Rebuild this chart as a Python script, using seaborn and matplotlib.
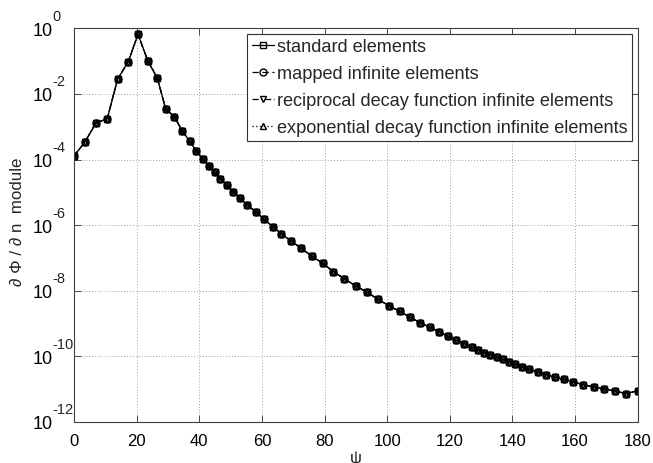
import numpy as np
import pandas as pd
import seaborn as sns
import matplotlib
matplotlib.use("Agg")
from matplotlib import pyplot as plt
from matplotlib.ticker import FixedLocator, NullLocator

# psi positions of the boundary nodes
psi = [0.0, 3.42, 7.03, 10.63, 13.95, 17.34, 20.44, 23.63, 26.60, 29.28,
       32.03, 34.58, 36.95, 39.05, 41.10, 43.17, 45.02, 46.72, 48.86, 50.77,
       53.01, 55.34, 58.02, 60.67, 63.45, 66.20, 69.39, 72.58, 76.00, 79.42,
       82.80, 86.31, 89.95, 93.56, 97.07, 100.59, 104.00, 107.29, 110.49, 113.68,
       116.55, 119.33, 121.88, 124.53, 126.99, 128.91, 130.92, 132.93, 134.98, 136.89,
       138.90, 140.92, 143.06, 145.39, 148.07, 150.72, 153.50, 156.37, 159.44, 162.63,
       165.95, 169.34, 172.75, 176.27, 180.0]

# normal derivative module, same for all four element types
dphi_dn = [1.28e-4, 3.35e-4, 1.30e-3, 1.76e-3, 2.85e-2, 9.6e-2, 0.656, 9.86e-2, 3.05e-2, 3.47e-3,
           2.02e-3, 7.41e-4, 3.60e-4, 1.82e-4, 1.05e-4, 6.22e-5, 4.03e-5, 2.62e-5, 1.64e-5, 1.05e-5,
           6.59e-6, 4.11e-6, 2.57e-6, 1.51e-6, 8.97e-7, 5.50e-7, 3.22e-7, 1.97e-7, 1.12e-7, 6.89e-8,
           3.82e-8, 2.33e-8, 1.40e-8, 8.99e-9, 5.50e-9, 3.44e-9, 2.37e-9, 1.56e-9, 1.06e-9, 7.71e-10,
           5.66e-10, 4.10e-10, 3.10e-10, 2.44e-10, 1.89e-10, 1.57e-10, 1.30e-10, 1.10e-10, 9.38e-11, 8.17e-11,
           6.89e-11, 5.74e-11, 4.75e-11, 4.05e-11, 3.34e-11, 2.77e-11, 2.31e-11, 2.00e-11, 1.66e-11, 1.37e-11,
           1.17e-11, 1.01e-11, 8.81e-12, 7.29e-12, 9.02e-12]

series = ["standard elements",
          "mapped infinite elements",
          "reciprocal decay function infinite elements",
          "exponential decay function infinite elements"]

x_ticks = [0, 20, 40, 60, 80, 100, 120, 140, 160, 180]
y_exps = [-12, -10, -8, -6, -4, -2, 0]

df = pd.concat([pd.DataFrame({"psi": psi, "val": dphi_dn, "serie": s}) for s in series],
               ignore_index=True)

sns.set_style("ticks")
plt.rcParams["font.family"] = ["Liberation Sans", "DejaVu Sans"]

fig = plt.figure(figsize=(6.53, 4.64), dpi=100)
ax = fig.add_axes([0.1133, 0.0884, 0.8633, 0.8485])

marcadores = dict(zip(series, ["s", "o", "v", "^"]))
trazos = dict(zip(series, ["", (5, 3), (5, 2, 1, 2), (1, 2)]))
sns.lineplot(data=df, x="psi", y="val", hue="serie", style="serie",
             palette=["k"] * 4, markers=marcadores, dashes=trazos,
             hue_order=series, style_order=series,
             markersize=5, markeredgecolor="k", markerfacecolor="none",
             markeredgewidth=1.0, linewidth=0.9, legend=False, ax=ax)

ax.set_yscale("log")
ax.set_xlim(0, 180)
ax.set_ylim(1e-12, 1e0)
ax.xaxis.set_major_locator(FixedLocator(x_ticks))
y_ticks = [10.0 ** e for e in y_exps]
ax.yaxis.set_major_locator(FixedLocator(y_ticks))
ax.yaxis.set_minor_locator(NullLocator())
ax.set_yticklabels(["10"] * len(y_ticks))

ax.tick_params(direction="in", length=5, width=0.6, top=True, right=True,
               colors="#303030", labelcolor="k")
ax.tick_params(axis="x", labelsize=12, pad=8)
ax.tick_params(axis="y", labelsize=13, pad=15)

# exponentes al estilo matlab
for e, v in zip(y_exps, y_ticks):
    ax.annotate(str(e), xy=(0, v), xycoords=("axes fraction", "data"),
                xytext=(-15.2, 4.0), textcoords="offset points",
                ha="left", va="bottom", fontsize=10.5)

for sp in ax.spines.values():
    sp.set_color("#404040")
    sp.set_linewidth(0.8)
ax.grid(True, which="major", linestyle=(0, (1, 2)), color="#a0a0a0", linewidth=0.7)

ax.set_xlabel("ψ", fontsize=12, va="center")
ax.xaxis.set_label_coords(0.5, -0.089)
ax.set_ylabel("∂ Φ / ∂ n  module", fontsize=12.2)
ax.yaxis.set_label_coords(-0.087, 0.512)

leg = ax.legend(handles=ax.lines[:4], labels=series, loc="upper right",
                bbox_to_anchor=(0.9965, 0.995), fontsize=13.1, frameon=True,
                fancybox=False, framealpha=1, edgecolor="#303030",
                handlelength=1.2, handletextpad=0.17, borderpad=0.25,
                labelspacing=0.55, borderaxespad=0.2)
leg.get_frame().set_linewidth(0.8)

fig.savefig("out.png", dpi=100)
